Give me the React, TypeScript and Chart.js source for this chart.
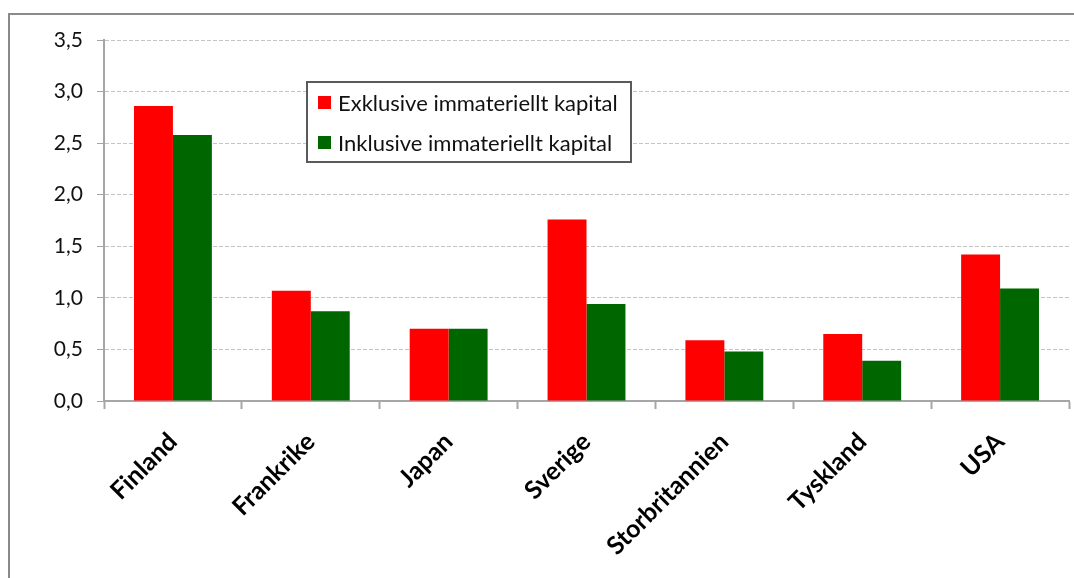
import { useEffect, useRef } from "react";
import { Chart, registerables } from "chart.js";

Chart.register(...registerables);

// Countries on the category axis
const countries = [
  "Finland",
  "Frankrike",
  "Japan",
  "Sverige",
  "Storbritannien",
  "Tyskland",
  "USA",
];

// Series values
const exklusive = [2.86, 1.07, 0.7, 1.76, 0.59, 0.65, 1.42];
const inklusive = [2.58, 0.87, 0.7, 0.94, 0.48, 0.39, 1.09];

const seriesNames = [
  "Exklusive immateriellt kapital",
  "Inklusive immateriellt kapital",
];
const seriesColors = ["#ff0000", "#006600"];

// Value axis range
const yMin = 0;
const yMax = 3.5;
const yStep = 0.5;

const FONT = "Lato, 'Open Sans', sans-serif";

// Framed legend drawn inside the plot area
const boxLegend = {
  id: "boxLegend",
  afterDraw(chart: any) {
    const ctx = chart.ctx as CanvasRenderingContext2D;
    const x = 307;
    const y = 82;
    const w = 324;
    const h = 80;
    ctx.save();
    ctx.fillStyle = "#ffffff";
    ctx.fillRect(x, y, w, h);
    ctx.strokeStyle = "#5a5a5a";
    ctx.lineWidth = 2;
    ctx.strokeRect(x, y, w, h);
    chart.data.datasets.forEach((ds: any, i: number) => {
      const cy = y + 20.5 + i * 40;
      ctx.fillStyle = ds.backgroundColor;
      ctx.fillRect(x + 11, cy - 6.5, 13, 13);
      ctx.fillStyle = "#111111";
      ctx.font = `22px ${FONT}`;
      ctx.textBaseline = "middle";
      ctx.textAlign = "left";
      ctx.fillText(ds.label, x + 31, cy + 1);
    });
    ctx.restore();
  },
};

export default function App() {
  const canvasRef = useRef<HTMLCanvasElement | null>(null);

  useEffect(() => {
    let chart: Chart | null = null;
    let cancelled = false;

    const build = () => {
      if (cancelled || !canvasRef.current) return;
      chart = new Chart(canvasRef.current, {
        type: "bar",
        data: {
          labels: countries,
          datasets: [
            {
              label: seriesNames[0],
              data: exklusive,
              backgroundColor: seriesColors[0],
              borderWidth: 0,
              barPercentage: 1,
              categoryPercentage: 0.565,
            },
            {
              label: seriesNames[1],
              data: inklusive,
              backgroundColor: seriesColors[1],
              borderWidth: 0,
              barPercentage: 1,
              categoryPercentage: 0.565,
            },
          ],
        },
        options: {
          responsive: false,
          animation: false,
          devicePixelRatio: 1,
          layout: { padding: { top: 40, right: 5, bottom: 0, left: 0 } },
          plugins: {
            legend: { display: false },
            tooltip: { enabled: false },
          },
          scales: {
            x: {
              grid: {
                display: true,
                drawOnChartArea: false,
                drawTicks: true,
                tickLength: 8,
                tickColor: "#a6a6a6",
                tickWidth: 2,
                offset: true,
              },
              border: { color: "#a6a6a6", width: 2 },
              ticks: {
                minRotation: 45,
                maxRotation: 45,
                autoSkip: false,
                padding: 18,
                color: "#000000",
                font: { family: FONT, size: 25, weight: "bold" },
              },
              afterFit(scale: any) {
                scale.height = 177;
              },
            },
            y: {
              min: yMin,
              max: yMax,
              ticks: {
                stepSize: yStep,
                padding: 14,
                color: "#111111",
                font: { family: FONT, size: 21 },
                callback: (v: any) => Number(v).toFixed(1).replace(".", ","),
              },
              grid: {
                color: "#c4c4c4",
                lineWidth: 1,
                tickLength: 7,
                tickColor: "#a6a6a6",
                tickWidth: 1,
              },
              border: { color: "#a6a6a6", width: 2, dash: [4, 2] },
              afterFit(scale: any) {
                scale.width = 104;
              },
            },
          },
        },
        plugins: [boxLegend],
      });
    };

    const fontsReady = (document as any).fonts
      ? Promise.all([
          (document as any).fonts.load(`21px Lato`),
          (document as any).fonts.load(`bold 25px Lato`),
        ]).catch(() => null)
      : Promise.resolve(null);
    fontsReady.then(build);

    return () => {
      cancelled = true;
      if (chart) chart.destroy();
    };
  }, []);

  return (
    <div>
      <div
        style={{
          position: "fixed",
          left: 8,
          top: 13,
          width: 1100,
          height: 620,
          border: "2px solid #8a8a8a",
          background: "#ffffff",
        }}
      />
      <canvas
        ref={canvasRef}
        width={1074}
        height={578}
        style={{ position: "fixed", left: 0, top: 0, width: 1074, height: 578 }}
      />
    </div>
  );
}
